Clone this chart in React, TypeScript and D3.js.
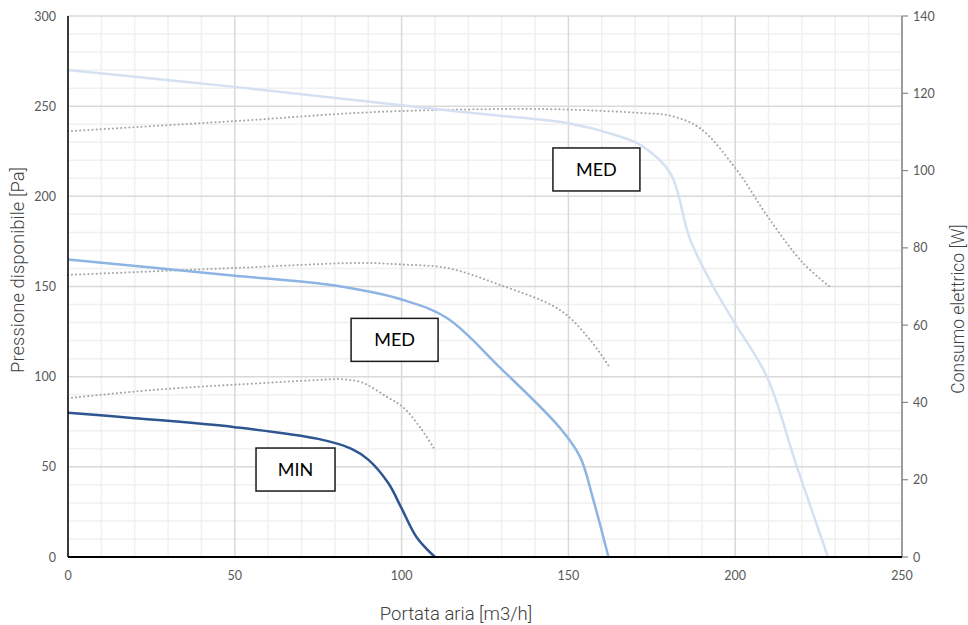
import React from "react";
import * as d3 from "d3";

// ---- data ----
const xTicks = [0, 50, 100, 150, 200, 250];
const yTicksLeft = [0, 50, 100, 150, 200, 250, 300];
const yTicksRight = [0, 20, 40, 60, 80, 100, 120, 140];

const minFlow = [0, 20, 50, 75, 85, 90, 96, 100, 104.5, 110];
const minPressure = [80, 77, 72, 65.5, 60, 54, 41, 27, 11, 0];
const minPowerFlow = [0, 25, 50, 75, 82, 88, 95.5, 100.5, 105.5, 110];
const minPower = [41.1, 43.2, 44.6, 45.8, 46, 45.2, 41.5, 38.7, 33.6, 27.7];

const med1Flow = [0, 25, 50, 80, 100.5, 113.6, 129.5, 147.5, 153.5, 157.5, 162];
const med1Pressure = [165, 160.5, 156, 150.5, 142.5, 132.5, 105, 71.5, 55.5, 31.5, 0];
const med1PowerFlow = [0, 50, 88, 100, 113.6, 129.5, 147.5, 156.5, 162.5];
const med1Power = [73, 74.8, 76.1, 75.7, 74.8, 70.4, 63.9, 56.2, 48.9];

const med2Flow = [0, 50, 100, 125, 150, 164, 172, 180.5, 186.5, 193.4, 199.3, 209.5, 218.5, 227.8];
const med2Pressure = [270, 260.7, 250.5, 245.5, 240.5, 234, 228, 213, 176, 150, 131.4, 100, 50, 0];
const med2PowerFlow = [0, 50, 93.5, 143.6, 171.5, 180.5, 189.4, 200.5, 209.8, 220.3, 228.4];
const med2Power = [110.2, 112.8, 115.2, 115.9, 114.9, 114.2, 111, 100.1, 88, 76.1, 69.9];

const labels = ["MIN", "MED", "MED"];
const labelFlow = [68.2, 97.9, 158.4];
const labelPressure = [48.5, 120.4, 214.9];

// ---- layout ----
const W = 968;
const H = 625;
const L = 68, R = 902, T = 16, B = 557;

export default function App() {
  const x = d3.scaleLinear().domain([0, 250]).range([L, R]);
  const yL = d3.scaleLinear().domain([0, 300]).range([B, T]);
  const yR = d3.scaleLinear().domain([0, 140]).range([B, T]);

  const curve = d3.curveCatmullRom.alpha(0.5);
  const lineL = (xs: number[], ys: number[]) =>
    d3.line<number>().x((_, i) => x(xs[i])).y((_, i) => yL(ys[i])).curve(curve)(xs) || "";
  const lineR = (xs: number[], ys: number[]) =>
    d3.line<number>().x((_, i) => x(xs[i])).y((_, i) => yR(ys[i])).curve(curve)(xs) || "";

  const minorX = d3.range(0, 251, 10).filter((v) => v % 50 !== 0);
  const minorY = d3.range(0, 301, 10).filter((v) => v % 50 !== 0);

  const tickFont = "Lato, 'Open Sans', sans-serif";
  const titleFont = "Roboto, sans-serif";

  const dotted = { fill: "none", stroke: "#a6a6a6", strokeWidth: 2, strokeDasharray: "0.1 4", strokeLinecap: "round" as const };

  return (
    <svg width={W} height={H} style={{ position: "absolute", left: 0, top: 0, background: "#fff" }}>
      <rect x={0} y={0} width={W} height={H} fill="#fff" />
      {/* minor grid */}
      {minorX.map((v) => (
        <line key={"mx" + v} x1={x(v)} x2={x(v)} y1={T} y2={B} stroke="#f0f0f0" strokeWidth={1.5} />
      ))}
      {minorY.map((v) => (
        <line key={"my" + v} x1={L} x2={R} y1={yL(v)} y2={yL(v)} stroke="#f0f0f0" strokeWidth={1.5} />
      ))}
      {/* major grid */}
      {xTicks.map((v) => (
        <line key={"gx" + v} x1={x(v)} x2={x(v)} y1={T} y2={B} stroke="#d9d9d9" strokeWidth={1.5} />
      ))}
      {yTicksLeft.map((v) => (
        <line key={"gy" + v} x1={L} x2={R} y1={yL(v)} y2={yL(v)} stroke="#d9d9d9" strokeWidth={1.5} />
      ))}

      {/* power curves (dotted) */}
      <path d={lineR(minPowerFlow, minPower)} {...dotted} />
      <path d={lineR(med1PowerFlow, med1Power)} {...dotted} />
      <path d={lineR(med2PowerFlow, med2Power)} {...dotted} />

      {/* pressure curves */}
      <path d={lineL(med2Flow, med2Pressure)} fill="none" stroke="#d5e1f2" strokeWidth={2.5} />
      <path d={lineL(med1Flow, med1Pressure)} fill="none" stroke="#8db4e3" strokeWidth={2.5} />
      <path d={lineL(minFlow, minPressure)} fill="none" stroke="#2e5590" strokeWidth={2.5} />

      {/* axes */}
      <line x1={L} x2={L} y1={T} y2={B} stroke="#000" strokeWidth={1.5} />
      <line x1={R} x2={R} y1={T} y2={B} stroke="#868686" strokeWidth={1.5} />
      {yTicksRight.map((v) => (
        <line key={"rt" + v} x1={R} x2={R + 6} y1={yR(v)} y2={yR(v)} stroke="#868686" strokeWidth={1.2} />
      ))}
      <line x1={L} x2={R} y1={B} y2={B} stroke="#000" strokeWidth={1.8} />

      {/* tick labels */}
      {xTicks.map((v) => (
        <text key={"xt" + v} x={x(v)} y={580} textAnchor="middle" fontFamily={tickFont} fontSize={12.5} fill="#595959">
          {v}
        </text>
      ))}
      {yTicksLeft.map((v) => (
        <text key={"yl" + v} x={56} y={yL(v) + 4.5} textAnchor="end" fontFamily={tickFont} fontSize={12.5} fill="#595959">
          {v}
        </text>
      ))}
      {yTicksRight.map((v) => (
        <text key={"yr" + v} x={913} y={yR(v) + 4.5} textAnchor="start" fontFamily={tickFont} fontSize={12.5} fill="#595959">
          {v}
        </text>
      ))}

      {/* axis titles */}
      <text x={456} y={620} textAnchor="middle" fontFamily={titleFont} fontWeight={300} fontSize={18.5} fill="#404040">
        Portata aria [m3/h]
      </text>
      <text transform={`translate(24,270) rotate(-90)`} textAnchor="middle" fontFamily={titleFont} fontWeight={300} fontSize={18.5} fill="#404040">
        Pressione disponibile [Pa]
      </text>
      <text transform={`translate(964,309) rotate(-90)`} textAnchor="middle" fontFamily={titleFont} fontWeight={300} fontSize={17.5} fill="#404040">
        Consumo elettrico [W]
      </text>

      {/* labels */}
      {labels.map((t, i) => {
        const cx = x(labelFlow[i]);
        const cy = yL(labelPressure[i]);
        const w = i === 0 ? 79 : 87;
        const h = 43;
        return (
          <g key={"lb" + i}>
            <rect x={cx - w / 2} y={cy - h / 2} width={w} height={h} fill="#fff" stroke="#1a1a1a" strokeWidth={1.5} />
            <text x={cx} y={cy + 6.5} textAnchor="middle" fontFamily={tickFont} fontSize={18} fill="#000">
              {t}
            </text>
          </g>
        );
      })}
    </svg>
  );
}
